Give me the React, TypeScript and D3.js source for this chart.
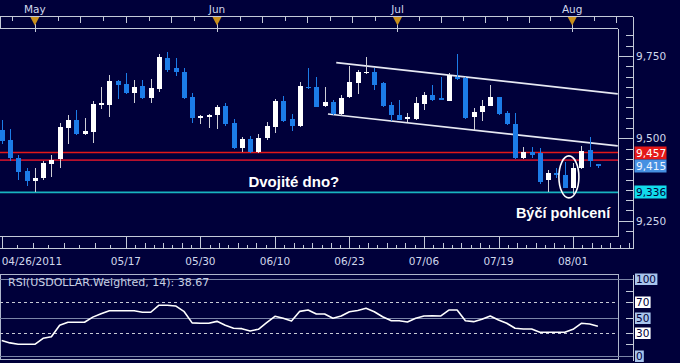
import React, { useEffect, useRef } from "react";
import * as d3 from "d3";

const W = 680;
const H = 363;

// USDOLLAR daily bars, bar 0 = 04/26/2011 ... bar 72 = 08/04/2011
const opens = [
  9525, 9495, 9441, 9401, 9371, 9379, 9422, 9436, 9532, 9556, 9512, 9520, 9600, 9601, 9674, 9664, 9637, 9659, 9622,
  9650, 9745, 9713, 9702, 9625, 9563, 9566, 9571, 9598, 9548, 9472, 9497, 9458, 9500, 9534, 9613, 9558, 9537, 9657,
  9657, 9599, 9611, 9574, 9625, 9669, 9698, 9702, 9667, 9601, 9571, 9558, 9558, 9603, 9632, 9622, 9614, 9687, 9682,
  9564, 9579, 9599, 9625, 9578, 9543, 9439, 9458, 9455, 9374, 9394, 9389, 9350, 9409, 9465, 9421,
];
const highs = [
  9556, 9528, 9449, 9411, 9411, 9431, 9449, 9548, 9571, 9586, 9561, 9613, 9655, 9692, 9676, 9697, 9677, 9677, 9679,
  9756, 9763, 9743, 9713, 9637, 9571, 9574, 9601, 9608, 9559, 9505, 9508, 9512, 9549, 9619, 9629, 9574, 9672, 9714,
  9687, 9655, 9616, 9632, 9720, 9708, 9748, 9713, 9672, 9611, 9616, 9578, 9625, 9642, 9662, 9685, 9698, 9756, 9687,
  9591, 9616, 9662, 9627, 9584, 9576, 9475, 9475, 9470, 9404, 9411, 9429, 9424, 9477, 9503, 9422,
];
const lows = [
  9484, 9431, 9374, 9355, 9336, 9375, 9384, 9411, 9482, 9510, 9510, 9487, 9589, 9564, 9619, 9635, 9606, 9620, 9606,
  9641, 9702, 9690, 9619, 9546, 9544, 9531, 9528, 9537, 9468, 9459, 9456, 9456, 9495, 9517, 9550, 9522, 9534, 9651,
  9595, 9595, 9571, 9568, 9622, 9634, 9695, 9647, 9595, 9554, 9555, 9550, 9555, 9586, 9614, 9615, 9613, 9677, 9558,
  9525, 9554, 9597, 9571, 9540, 9437, 9437, 9440, 9361, 9336, 9379, 9349, 9330, 9407, 9414, 9409,
];
const closes = [
  9493, 9439, 9399, 9371, 9381, 9424, 9434, 9534, 9556, 9512, 9522, 9603, 9606, 9674, 9662, 9637, 9657, 9622, 9652,
  9746, 9708, 9701, 9623, 9561, 9569, 9571, 9596, 9543, 9472, 9498, 9459, 9502, 9537, 9613, 9553, 9537, 9659, 9652,
  9596, 9611, 9574, 9623, 9672, 9700, 9702, 9662, 9598, 9571, 9556, 9564, 9606, 9632, 9616, 9616, 9692, 9679, 9561,
  9581, 9599, 9625, 9574, 9543, 9439, 9458, 9448, 9368, 9394, 9389, 9350, 9411, 9462, 9431, 9415,
];
const rsi = [
  20, 17, 15.2, 15.2, 15.2, 23, 25, 40, 43.8, 43.8, 43.8, 50.5, 55, 58.8, 58.8, 58.8, 58.8, 56.8, 56.8, 66, 66, 65, 58,
  43, 42.5, 42.5, 45, 40, 36, 35.5, 32.5, 34.7, 43.2, 51.5, 49, 45.5, 58, 59.7, 54.5, 54.5, 49, 52, 57.5, 59, 62, 57.5,
  51, 46, 45.8, 44.2, 49, 52, 52.3, 51.9, 59.7, 59.7, 45.8, 44.6, 47.7, 51.9, 46.8, 42.5, 36, 35, 35, 30.8, 30.8, 30.8,
  30.8, 34.7, 42.5, 41.6, 38.67,
];

const dateTicks = [
  { i: 0, label: "04/26/2011" },
  { i: 15, label: "05/17" },
  { i: 24, label: "05/30" },
  { i: 33, label: "06/10" },
  { i: 42, label: "06/23" },
  { i: 51, label: "07/06" },
  { i: 60, label: "07/19" },
  { i: 69, label: "08/01" },
];
const monthMarks = [
  { i: 4, label: "May" },
  { i: 26, label: "Jun" },
  { i: 47.8, label: "Jul" },
  { i: 68.9, label: "Aug" },
];
const priceTicks = [9250, 9500, 9750];
const supportLines = [
  { v: 9457, color: "#e41818" },
  { v: 9434, color: "#b8102c" },
  { v: 9336, color: "#18b4c0" },
];
const priceBoxes = [
  { v: 9457, label: "9,457", fill: "#e41818", text: "#ffffff" },
  { v: 9415, label: "9,415", fill: "#4690e2", text: "#eef4ff" },
  { v: 9336, label: "9,336", fill: "#12dceb", text: "#000038" },
];
const channelUpper = [
  { i: 40.4, v: 9730 },
  { i: 74.4, v: 9635 },
];
const channelLower = [
  { i: 39.4, v: 9574 },
  { i: 74.4, v: 9477 },
];
const rsiLevels = [
  { v: 100, label: "100", fill: "#a8c4ec" },
  { v: 70, label: "70", fill: "#ffffff" },
  { v: 50, label: "50", fill: "#a8c4ec" },
  { v: 30, label: "30", fill: "#ffffff" },
  { v: 0, label: "0", fill: "#a8c4ec" },
];

const BG = "#00003a";
const FRAME = "#c4cad8";
const TXT = "#d0d8ec";
const UP = "#ffffff";
const DOWN = "#1c7ce8";

const App = () => {
  const svgRef = useRef<SVGSVGElement>(null);

  useEffect(() => {
    const svg = d3.select(svgRef.current);
    svg.selectAll("*").remove();

    const font = "DejaVu Sans, Verdana, sans-serif";
    const R = 618; // right edge of plots
    const AX = 633; // right axis line
    const top = 29;
    const bottom = 236.7;

    const x = d3.scaleLinear().domain([-0.205, 74.43]).range([0, R]);
    const y = d3.scaleLinear().domain([9201.4, 9832]).range([bottom, top]);
    const yr = d3.scaleLinear().domain([0, 100]).range([356, 279]);
    const px = (v: number) => Math.round(v) + 0.5;

    svg.append("rect").attr("width", W).attr("height", H).attr("fill", BG);

    const hline = (g, x1, x2, yy, color = FRAME, w = 1) =>
      g.append("line").attr("x1", x1).attr("x2", x2).attr("y1", yy).attr("y2", yy)
        .attr("stroke", color).attr("stroke-width", w);
    const vline = (g, xx, y1, y2, color = FRAME, w = 1) =>
      g.append("line").attr("x1", xx).attr("x2", xx).attr("y1", y1).attr("y2", y2)
        .attr("stroke", color).attr("stroke-width", w);

    // ---- top month ruler
    const ruler = svg.append("g").attr("shape-rendering", "crispEdges");
    hline(ruler, 0, AX, 16.5);
    hline(ruler, 0, R, 28.5);
    vline(ruler, 0.5, 16.5, 28.5);

    const mx = monthMarks.map((m) => x(m.i));
    const rulerTicks: { xx: number; tall: boolean }[] = [];
    const step0 = (mx[1] - mx[0]) / 8;
    for (let k = 1; mx[0] - k * step0 > 0; k++) rulerTicks.push({ xx: mx[0] - k * step0, tall: k % 2 === 0 });
    for (let m = 0; m < mx.length - 1; m++) {
      const st = (mx[m + 1] - mx[m]) / 8;
      for (let k = 1; k < 8; k++) rulerTicks.push({ xx: mx[m] + k * st, tall: k % 2 === 0 });
    }
    const stN = (mx[mx.length - 1] - mx[mx.length - 2]) / 8;
    for (let k = 1; mx[mx.length - 1] + k * stN < R; k++)
      rulerTicks.push({ xx: mx[mx.length - 1] + k * stN, tall: k % 2 === 0 });
    rulerTicks.forEach((t) => vline(ruler, px(t.xx), 16.5, t.tall ? 23 : 20.5));

    monthMarks.forEach((m) => {
      const cx = x(m.i);
      vline(ruler, px(cx), 24, 31.5, FRAME);
      svg.append("path")
        .attr("d", `M${cx - 4.5},17 L${cx + 4.5},17 L${cx},25.5 Z`)
        .attr("fill", "#c8901c");
      svg.append("text")
        .attr("x", cx).attr("y", 12.5)
        .attr("text-anchor", "middle")
        .attr("fill", TXT)
        .style("font-family", font).style("font-size", "10.5px")
        .text(m.label);
    });

    // ---- main price panel
    svg.append("clipPath").attr("id", "plotClip")
      .append("rect").attr("x", 0).attr("y", top).attr("width", R).attr("height", bottom - top);
    const plot = svg.append("g").attr("clip-path", "url(#plotClip)");

    supportLines.forEach((s) => hline(plot, 0, R, y(s.v), s.color, 1.7));

    const line = d3.line<{ i: number; v: number }>().x((d) => x(d.i)).y((d) => y(d.v));
    [channelUpper, channelLower].forEach((c) =>
      plot.append("path").attr("d", line(c)).attr("fill", "none")
        .attr("stroke", "#e6e8f2").attr("stroke-width", 1.7)
    );

    const candles = plot.append("g").attr("shape-rendering", "crispEdges");
    opens.forEach((o, i) => {
      const c = closes[i];
      const up = c >= o;
      const cx = Math.round(x(i));
      vline(candles, cx + 0.5, y(highs[i]), y(lows[i]), up ? "#cfcfd6" : DOWN);
      const yt = y(Math.max(o, c));
      const yb = y(Math.min(o, c));
      candles.append("rect")
        .attr("x", cx - 2).attr("width", 5)
        .attr("y", yt).attr("height", Math.max(1.5, yb - yt))
        .attr("fill", up ? UP : DOWN);
    });

    // annotations
    plot.append("ellipse")
      .attr("cx", x(68.5)).attr("cy", y(9383))
      .attr("rx", 10).attr("ry", 21)
      .attr("fill", "none").attr("stroke", "#ffffff").attr("stroke-width", 1.6);
    const note = (i, v, txt, size) =>
      svg.append("text")
        .attr("x", x(i)).attr("y", y(v))
        .attr("fill", "#ffffff")
        .style("font-family", "Liberation Sans, Arial, sans-serif")
        .style("font-weight", "bold").style("font-size", size)
        .text(txt);
    note(29.8, 9352, "Dvojité dno?", "15px");
    note(62.1, 9259, "Býčí pohlcení", "14.5px");

    const frame = svg.append("g").attr("shape-rendering", "crispEdges");
    vline(frame, R + 0.5, 28.5, 236.5);
    hline(frame, 0, R, 236.5);

    // right price axis
    vline(frame, AX + 0.5, 16.5, 248.5);
    d3.range(9218.75, 9832, 31.25).forEach((v) => {
      const major = priceTicks.includes(v);
      hline(frame, major ? R : 626, AX, px(y(v)));
    });
    priceTicks.forEach((v) =>
      svg.append("text")
        .attr("x", 636).attr("y", y(v) + 4)
        .attr("fill", TXT)
        .style("font-family", font).style("font-size", "10.5px")
        .text(d3.format(",")(v))
    );
    priceBoxes.forEach((b) => {
      svg.append("rect")
        .attr("x", 634.5).attr("y", Math.round(y(b.v)) - 6.5)
        .attr("width", 32).attr("height", 13)
        .attr("fill", b.fill);
      svg.append("text")
        .attr("x", 636).attr("y", y(b.v) + 4)
        .attr("fill", b.text)
        .style("font-family", font).style("font-size", "10.5px")
        .text(b.label);
    });

    // ---- date axis
    hline(frame, 0, AX, 248.5);
    dateTicks.forEach((d, k) => {
      const dx = x(d.i);
      vline(frame, px(dx), 236.5, 248.5);
      const next = dateTicks[k + 1] ? x(dateTicks[k + 1].i) : null;
      const st = next ? (next - dx) / 8 : (dx - x(dateTicks[k - 1].i)) / 8;
      for (let j = 1; next ? j < 8 : dx + j * st < AX - 2; j++) {
        vline(frame, px(dx + j * st), j % 2 === 0 ? 242.5 : 244.5, 248.5);
      }
      svg.append("text")
        .attr("x", k === 0 ? dx : dx).attr("y", 264.5)
        .attr("text-anchor", k === 0 ? "start" : "middle")
        .attr("fill", TXT)
        .style("font-family", font).style("font-size", "10.5px")
        .text(d.label);
    });

    // ---- RSI panel
    const rg = svg.append("g").attr("shape-rendering", "crispEdges");
    rg.append("rect")
      .attr("x", 0.5).attr("y", 274.5).attr("width", R).attr("height", 85)
      .attr("fill", "none").attr("stroke", "#aeb6cc");
    hline(rg, 0, AX, px(yr(100)), "#7c86a8");
    hline(rg, 0, AX, px(yr(0)), "#7c86a8");
    hline(rg, 0, R, px(yr(50)), "#7c86a8");
    [70, 30].forEach((v) =>
      hline(rg, 0, R, px(yr(v)), "#c8cad6").attr("stroke-dasharray", "3,3")
    );
    vline(rg, AX + 0.5, 274.5, 361);
    [85, 70, 50, 30, 15].forEach((v) => hline(rg, 626, AX, px(yr(v))));

    svg.append("text")
      .attr("x", 8).attr("y", 285.5)
      .attr("fill", "#c8d0e4")
      .style("font-family", font).style("font-size", "11px")
      .text(`RSI(USDOLLAR.Weighted, 14): ${rsi[rsi.length - 1].toFixed(2)}`);

    svg.append("path")
      .attr("d", d3.line<number>().x((d, i) => x(i)).y((d) => yr(d))(rsi))
      .attr("fill", "none").attr("stroke", "#ffffff").attr("stroke-width", 1.6)
      .attr("stroke-linejoin", "round");

    rsiLevels.forEach((l) => {
      const w = l.label.length * 6.8 + 2;
      svg.append("rect")
        .attr("x", 635).attr("y", Math.round(yr(l.v)) - 5.5)
        .attr("width", w).attr("height", 11.5)
        .attr("fill", l.fill);
      svg.append("text")
        .attr("x", 636).attr("y", yr(l.v) + 4)
        .attr("fill", "#00003a")
        .style("font-family", font).style("font-size", "10.5px")
        .text(l.label);
    });
  }, []);

  return (
    <svg
      ref={svgRef}
      width={W}
      height={H}
      style={{ position: "absolute", left: 0, top: 0, display: "block" }}
    ></svg>
  );
};

export default App;
